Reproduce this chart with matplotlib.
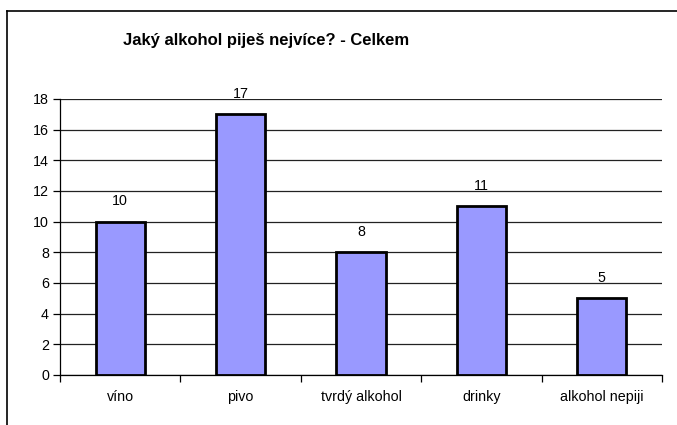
import matplotlib
matplotlib.use('Agg')
import matplotlib.pyplot as plt
from matplotlib.lines import Line2D
import numpy as np

categories = ['víno', 'pivo', 'tvrdý alkohol', 'drinky', 'alkohol nepiji']
values = [10, 17, 8, 11, 5]
yticks = [0, 2, 4, 6, 8, 10, 12, 14, 16, 18]

plt.rcParams['font.family'] = ['Liberation Sans', 'DejaVu Sans']

fig = plt.figure(figsize=(6.77, 4.25), dpi=100)
ax = fig.add_axes([60 / 677, 1 - 375 / 425, 602 / 677, 276 / 425])

x = np.arange(len(categories))
ax.bar(x, values, width=0.41, color='#9999FF', edgecolor='black', linewidth=2, zorder=3)
for xi, v in zip(x, values):
    ax.annotate(str(v), (xi, v), xytext=(0, 9.5), textcoords='offset points',
                ha='center', va='bottom', fontsize=10.3)

ax.set_xlim(-0.5, len(categories) - 0.5)
ax.set_ylim(0, 18)
ax.set_yticks(yticks)
ax.set_yticklabels([str(t) for t in yticks], fontsize=10.3)
ax.yaxis.grid(True, color='#222222', linewidth=0.9, zorder=0)
ax.tick_params(axis='y', direction='out', length=5, width=0.9, pad=3)

# category labels between boundary ticks
ax.set_xticks(np.arange(-0.5, len(categories), 1.0))
ax.set_xticklabels([])
ax.set_xticks(x, minor=True)
ax.set_xticklabels(categories, minor=True, fontsize=10.3)
ax.tick_params(axis='x', which='major', direction='out', length=5, width=0.9)
ax.tick_params(axis='x', which='minor', length=0, pad=11)

for side in ['top', 'right']:
    ax.spines[side].set_visible(False)
ax.spines['left'].set_linewidth(0.9)
ax.spines['bottom'].set_linewidth(0.9)

fig.text(266 / 677, 1 - 40 / 425, 'Jaký alkohol piješ nejvíce? - Celkem',
         ha='center', va='center', fontsize=12, fontweight='bold')

# chart area border (top and left visible)
fig.add_artist(Line2D([7 / 677, 1.0], [1 - 11 / 425, 1 - 11 / 425], color='black', linewidth=1.2))
fig.add_artist(Line2D([7 / 677, 7 / 677], [0, 1 - 11 / 425], color='black', linewidth=1.2))

fig.savefig('out.png', dpi=100)
